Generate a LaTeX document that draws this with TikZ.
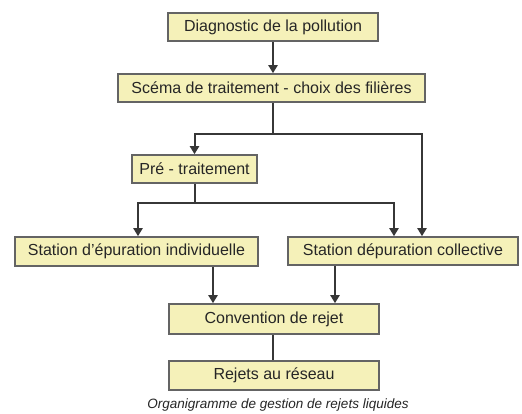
\documentclass[tikz,border=0pt]{standalone}
\usepackage{fontspec}
\setmainfont{Liberation Sans}
\usetikzlibrary{arrows.meta}
\definecolor{boxfill}{RGB}{245,241,185}
\definecolor{boxline}{RGB}{100,100,100}
\definecolor{conn}{RGB}{55,55,55}
\tikzset{
  box/.style={draw=boxline, line width=1.6pt, fill=boxfill, rectangle, inner sep=0pt,
    minimum height=28pt, font=\fontsize{16}{18}\selectfont, text=black!85},
  link/.style={draw=conn, line width=2pt},
  arr/.style={link, -{Triangle[length=8pt,width=9pt]}},
  caption/.style={font=\fontsize{13.5}{15}\selectfont\itshape, text=black!85}
}
\begin{document}
\begin{tikzpicture}[x=1pt,y=-1pt]
\useasboundingbox (0,0) rectangle (522,414);
\fill[white] (0,0) rectangle (522,414);
\node[box, minimum width=210pt] (b1) at (273,27) {Diagnostic de la pollution};
\node[box, minimum width=307pt] (b2) at (271.5,88) {Scéma de traitement - choix des filières};
\node[box, minimum width=125pt] (b3) at (194.5,169) {Pré - traitement};
\node[box, minimum width=243pt, minimum height=29pt] (b4a) at (136.5,251.5) {Station d'épuration individuelle};
\node[box, minimum width=230pt] (b4b) at (403,251) {Station dépuration collective};
\node[box, minimum width=210pt, minimum height=30pt] (b5) at (274,319) {Convention de rejet};
\node[box, minimum width=210pt, minimum height=29pt] (b6) at (274,375.5) {Rejets au réseau};
\node[caption] (cap) at (278,405) {Organigramme de gestion de rejets liquides};

\coordinate (j1) at (273,134);
\coordinate (r1) at (422,134);
\coordinate (j2) at (194.5,203);
\coordinate (l2) at (138,203);
\coordinate (r2) at (394,203);
\coordinate (c1) at (213,300);
\coordinate (c2) at (335,300);

\draw[arr] (b1.south) -- (b1.south |- b2.north);
\draw[link] (b2.south -| j1) -- (j1);
\draw[arr] (j1) -| (b3.north);
\draw[arr] (j1) -- (r1) -- (r1 |- b4b.north);
\draw[link] (b3.south) -- (j2);
\draw[arr] (j2) -- (l2) -- (l2 |- b4a.north);
\draw[arr] (j2) -- (r2) -- (r2 |- b4b.north);
\draw[arr] (b4a.south -| c1) -- (c1 |- b5.north);
\draw[arr] (b4b.south -| c2) -- (c2 |- b5.north);
\draw[link] (b5.south -| j1) -- (b6.north -| j1);
\end{tikzpicture}
\end{document}
